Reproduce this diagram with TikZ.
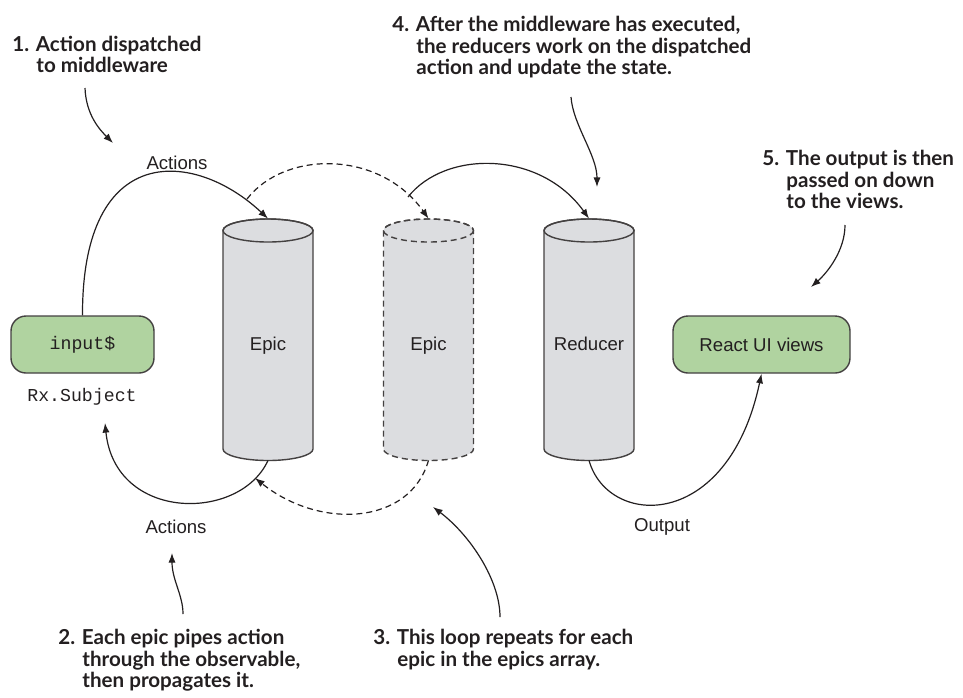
\documentclass[tikz,border=0pt]{standalone}
\usepackage{fontspec}
\setmainfont{Liberation Sans}
\setmonofont{Liberation Mono}
\newfontfamily\notefamily{Lato}
\usetikzlibrary{arrows.meta}

\definecolor{viewgreen}{RGB}{176,211,160}
\definecolor{drumgray}{RGB}{220,221,224}
\definecolor{ink}{RGB}{35,31,32}

\tikzset{
  flow/.style={draw=ink, line width=0.6pt, -{Latex[length=4.8pt,width=3.6pt]}},
  loopflow/.style={flow, dash pattern=on 3pt off 2pt},
  greenbox/.style={draw=ink!85, fill=viewgreen, rounded corners=7.5pt, line width=0.7pt,
    minimum height=28.5pt, inner sep=0pt, text=ink},
  drumshape/.style={fill=drumgray, draw=ink!85, line width=0.7pt},
  drumlabel/.style={minimum width=45pt, minimum height=120.5pt, inner sep=0pt,
    text height=11.2pt, text depth=0pt,
    font=\fontsize{9.3pt}{11pt}\selectfont, text=ink},
  caption/.style={font=\fontsize{9.3pt}{11pt}\selectfont, text=ink, inner sep=0pt},
  note/.style={font=\notefamily\bfseries\fontsize{10.3pt}{10.8pt}\selectfont, text=ink,
    align=left, anchor=north west, inner sep=0pt},
}

% cylinder body, #2 = centre x (top at 219, bottom at 460)
\newcommand{\drum}[2][]{%
  \path[drumshape,#1] (#2-45,230.5) -- (#2-45,449)
    arc[start angle=180, end angle=0, x radius=45, y radius=11.5] -- (#2+45,230.5)
    arc[start angle=0, end angle=-180, x radius=45, y radius=11.5] -- cycle;
  \draw[drumshape,fill=none,#1] (#2,230.5) ellipse[x radius=45, y radius=11.5];
}
\newcommand{\hang}{\hspace*{12pt}}

\begin{document}
\begin{tikzpicture}[x=0.5pt, y=-0.5pt]
	\useasboundingbox (0,0) rectangle (963,697);

	% --- CYLINDERS: two epics and the reducer ---
	\drum{268}
	\drum[dash pattern=on 3pt off 2pt]{428.5}
	\drum{589}
	\node[drumlabel] (epicA) at (268,339.5) {Epic};
	\node[drumlabel] (epicB) at (428.5,339.5) {Epic};
	\node[drumlabel] (reducer) at (589,339.5) {Reducer};

	% --- BOXES at either end ---
	\node[greenbox, minimum width=71.5pt, font=\ttfamily\fontsize{9.1pt}{11pt}\selectfont] (subj) at (82.5,344.5) {input\$};
	\node[caption, font=\ttfamily\fontsize{9.1pt}{11pt}\selectfont] (rxlabel) at (82,397) {Rx.Subject};
	\node[greenbox, minimum width=88.5pt, font=\fontsize{9.3pt}{11pt}\selectfont] (views) at (761.5,344.5) {React UI views};

	% Flow labels
	\node[caption] (actTop) at (177,163) {Actions};
	\node[caption] (actBot) at (176,527) {Actions};
	\node[caption] (output) at (662,527) {Output};

	% --- TOP ARCS (into the cylinders) ---
	\coordinate (loopA) at (247,199);
	\coordinate (loopB) at (408,197);
	\draw[flow] (subj.north) .. controls (82,140) and (195,150) .. (epicA.north);
	\draw[loopflow] (loopA) .. controls (285,150) and (380,150) .. (epicB.north);
	\draw[flow] (loopB) .. controls (445,150) and (540,150) .. (reducer.north);

	% --- BOTTOM ARCS (back out) ---
	\coordinate (backtip) at (105,423);
	\coordinate (looptip) at (255,478);
	\draw[flow] (epicA.south) .. controls (240,522) and (115,522) .. (backtip);
	\draw[loopflow] (epicB.south) .. controls (410,525) and (320,530) .. (looptip);
	\draw[flow] (reducer.south) .. controls (608,528) and (728,532) .. (views.south);

	% --- NUMBERED NOTES ---
	\node[note] (note1) at (12,35.5) {1. Action dispatched\\\hang to middleware};
	\node[note] (note4) at (392,16) {4. After the middleware has executed,\\\hang the reducers work on the dispatched\\\hang action and update the state.};
	\node[note] (note5) at (762,150) {5. The output is then\\\hang passed on down\\\hang to the views.};
	\node[note] (note2) at (58,629) {2. Each epic pipes action\\\hang through the observable,\\\hang then propagates it.};
	\node[note] (note3) at (373,629) {3. This loop repeats for each\\\hang epic in the epics array.};

	% Note pointers
	\coordinate (n1) at (85,88);   \coordinate (n1tip) at (113,143);
	\coordinate (n4) at (571,97);  \coordinate (n4tip) at (597,187);
	\coordinate (n5) at (845,225); \coordinate (n5tip) at (811,287);
	\coordinate (n2) at (183,614); \coordinate (n2tip) at (172,553);
	\coordinate (n3) at (500,617); \coordinate (n3tip) at (433,507);
	\draw[flow] (n1) .. controls (86,115) and (100,130) .. (n1tip);
	\draw[flow] (n4) .. controls (573,125) and (597,155) .. (n4tip);
	\draw[flow] (n5) .. controls (845,250) and (828,272) .. (n5tip);
	\draw[flow] (n2) .. controls (183,595) and (172,580) .. (n2tip);
	\draw[flow] (n3) .. controls (500,580) and (470,535) .. (n3tip);

\end{tikzpicture}
\end{document}
